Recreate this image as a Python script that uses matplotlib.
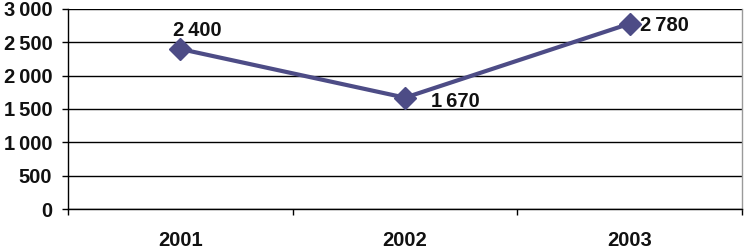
import matplotlib
matplotlib.use("Agg")
import matplotlib.pyplot as plt
from matplotlib.ticker import FuncFormatter

years = ["2001", "2002", "2003"]
values = [2400, 1670, 2780]
yticks = [0, 500, 1000, 1500, 2000, 2500, 3000]

color = "#4D4C86"
plt.rcParams['font.family'] = ['Liberation Sans', 'DejaVu Sans']

fig = plt.figure(figsize=(7.44, 2.49), dpi=100)
ax = fig.add_axes([68/744, 1 - 209/249, (742-68)/744, 200/249])

x = list(range(len(years)))
ax.plot(x, values, color=color, lw=3, marker="D", ms=11, mfc=color, mec=color, zorder=3)

def fmt(v):
    return f"{int(v):,}".replace(",", "\u2009")

ax.set_xlim(-0.5, 2.5)
ax.set_ylim(0, 3000)
ax.set_yticks(yticks)
ax.yaxis.set_major_formatter(FuncFormatter(lambda v, p: fmt(v)))
ax.grid(axis="y", color="black", lw=1)
ax.set_axisbelow(True)

ax.set_xticks(x)
ax.set_xticklabels(years)
ax.set_xticks([-0.5, 0.5, 1.5, 2.5], minor=True)
ax.tick_params(axis="x", which="major", length=0, pad=16, labelsize=14.5)
ax.tick_params(axis="x", which="minor", length=4.3, width=1, color="black", direction="out")
ax.tick_params(axis="y", length=4.3, width=1, pad=7, labelsize=14.5)
for lab in ax.get_xticklabels() + ax.get_yticklabels():
    lab.set_fontweight("bold")
    lab.set_color("#111111")

ax.spines["top"].set_visible(False)
ax.spines["right"].set_color("#9a9a9a")
ax.spines["right"].set_linewidth(1)
ax.spines["left"].set_linewidth(1)
ax.spines["bottom"].set_linewidth(1)

offsets = [(-5, 9.4), (18.7, -6.7), (7.4, -5.3)]
for xi, v, (dx, dy) in zip(x, values, offsets):
    ax.annotate(fmt(v), (xi, v), xytext=(dx, dy), textcoords="offset points",
                ha="left", va="baseline", fontsize=14.5, fontweight="bold", color="#111111")

fig.savefig("out.png", dpi=100)
